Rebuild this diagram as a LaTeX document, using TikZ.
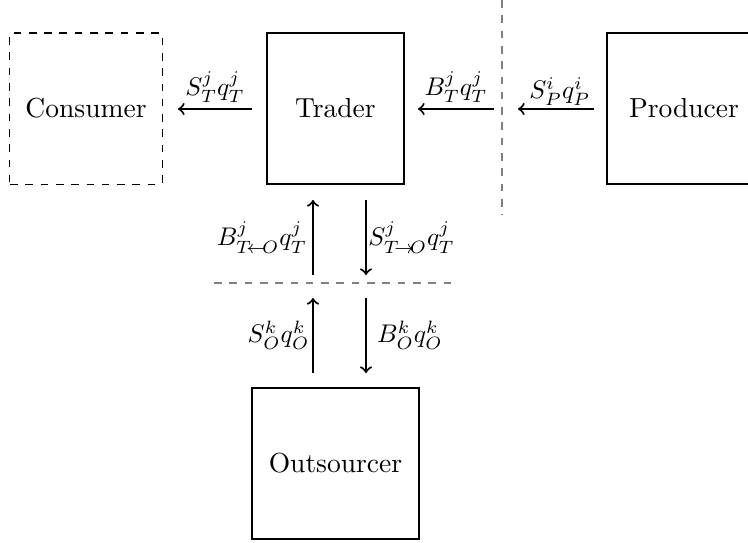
\documentclass[tikz,border=0pt]{standalone}
\begin{document}
\begin{tikzpicture}[x=0.392pt,y=-0.392pt,
  box/.style={draw,thick,minimum height=59.2pt,inner sep=0pt,font=\fontsize{10.8pt}{13pt}\selectfont},
  ghost/.style={box,thin,dashed},
  flow/.style={->,thick},
  sep/.style={draw=gray,dashed,line width=0.5pt},
  lab/.style={inner sep=2pt}]
\useasboundingbox (0,0) rectangle (748,542);
\clip (0,0) rectangle (748,542);
% boxes
\node[ghost,minimum width=59.6pt] (consumer) at (86,108.5) {Consumer};
\node[box,minimum width=53.7pt] (trader) at (335.5,108.5) {Trader};
\node[box,minimum width=60pt] (producer) at (684,108.5) {Producer};
\node[box,minimum width=65.5pt] (outsourcer) at (335.5,463.5) {Outsourcer};
% separators
\coordinate (vtop) at (502,0);
\coordinate (vbot) at (502,215);
\coordinate (hl) at (214,283);
\coordinate (hr) at (457,283);
\draw[sep] (vtop) -- (vbot);
\draw[sep] (hl) -- (hr);
% horizontal flows
\coordinate (a1s) at (252,109); \coordinate (a1e) at (178,109);
\coordinate (a2s) at (494,109); \coordinate (a2e) at (418,109);
\coordinate (a3s) at (594,109); \coordinate (a3e) at (518,109);
\draw[flow] (a1s) -- node[lab,above] (l1) {$S^j_Tq^j_T$} (a1e);
\draw[flow] (a2s) -- node[lab,above] (l2) {$B^j_Tq^j_T$} (a2e);
\draw[flow] (a3s) -- node[lab,above left,pos=0,inner sep=1pt] (l3) {$S^i_Pq^i_P$} (a3e);
% vertical flows
\coordinate (u1s) at (313,275); \coordinate (u1e) at (313,200);
\coordinate (d1s) at (366,200); \coordinate (d1e) at (366,275);
\coordinate (u2s) at (313,373); \coordinate (u2e) at (313,298);
\coordinate (d2s) at (366,298); \coordinate (d2e) at (366,373);
\draw[flow] (u1s) -- node[lab,left] (l4) {$B^j_{T\mkern-4mu\leftarrow\mkern-4mu O}q^j_T$} (u1e);
\draw[flow] (d1s) -- node[lab,right,inner sep=0.5pt] (l5) {$S^j_{T\mkern-4mu\rightarrow\mkern-4mu O}q^j_T$} (d1e);
\draw[flow] (u2s) -- node[lab,left,inner sep=1pt] (l6) {$S^k_Oq^k_O$} (u2e);
\draw[flow] (d2s) -- node[lab,right,inner sep=4pt] (l7) {$B^k_Oq^k_O$} (d2e);
\end{tikzpicture}
\end{document}
